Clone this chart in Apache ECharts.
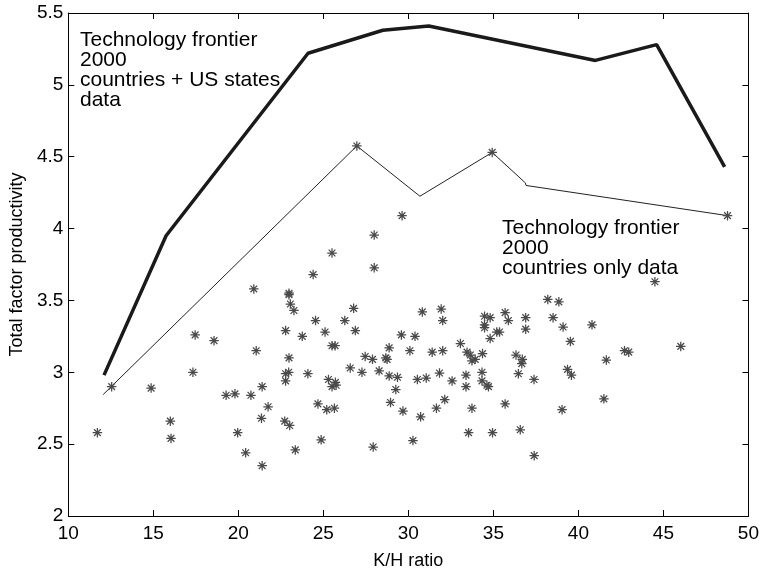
<!DOCTYPE html>
<html>
<head>
<meta charset="utf-8">
<script src="https://cdn.jsdelivr.net/npm/echarts@6/dist/echarts.min.js"></script>
<style>html,body{margin:0;padding:0;background:#fff}#c{width:762px;height:575px}</style>
</head>
<body>
<div id="c"></div>
<script>
// Frontier with countries + US states data (thick line)
const frontierAll = [[12.1,2.98],[15.75,3.95],[24.1,5.22],[28.5,5.38],[31.2,5.41],[41.0,5.17],[44.6,5.28],[48.6,4.43]];
// Frontier with countries only data (thin line)
const frontierCountries = [[12.05,2.845],[26.97,4.575],[30.68,4.225],[34.93,4.53],[36.88,4.318],[36.92,4.30],[48.77,4.09]];
// Countries: K/H ratio vs TFP
const points = [
[11.71,2.58],[12.55,2.90],[14.87,2.89],[16.0,2.66],[16.04,2.54],[17.46,3.26],[17.33,3.0],[18.57,3.22],
[19.28,2.84],[19.8,2.85],[19.96,2.58],[20.43,2.44],[20.74,2.84],[20.91,3.58],[21.05,3.15],[21.36,2.68],
[21.4,2.9],[21.4,2.35],[21.75,2.76],[22.73,2.66],[22.78,3.29],[22.78,2.99],[22.78,2.94],[22.96,3.0],
[22.98,3.55],[22.98,3.54],[22.98,3.10],[23.02,2.63],[23.06,3.475],[23.27,3.43],[23.35,2.46],[23.76,3.25],
[24.09,2.99],[24.4,3.68],[24.54,3.36],[24.68,2.78],[24.87,2.53],[25.1,3.28],[25.2,2.74],[25.3,2.95],
[25.51,3.83],[25.51,3.185],[25.69,3.185],[25.51,2.90],[25.65,2.75],[25.71,2.93],[25.75,2.91],[26.26,3.36],
[26.58,3.03],[26.78,3.445],[26.88,3.29],[26.97,4.575],[27.27,3.0],[27.46,3.11],[27.89,3.09],[27.93,2.48],
[27.99,3.955],[27.99,3.727],[28.28,3.01],[28.67,3.10],[28.75,3.09],[28.87,3.17],[28.87,2.975],[28.95,2.79],
[29.26,2.88],[29.36,2.965],[29.59,3.26],[29.63,4.09],[29.68,2.73],[30.09,3.15],[30.27,2.525],[30.39,3.25],
[30.53,2.95],[30.72,2.69],[30.82,3.42],[31.05,2.96],[31.4,3.14],[31.65,2.75],[31.83,2.995],[31.93,3.44],
[32.02,3.36],[32.02,3.15],[32.14,2.81],[32.57,2.94],[33.06,3.2],[33.39,2.98],[33.39,2.90],[33.45,3.14],
[33.54,2.58],[33.64,3.12],[33.74,3.08],[33.74,2.75],[33.93,3.09],[34.33,3.0],[34.33,2.94],[34.36,3.13],
[34.48,3.39],[34.48,3.33],[34.48,3.31],[34.62,2.91],[34.71,2.90],[34.81,3.38],[34.81,3.235],[34.93,4.53],
[34.95,2.58],[35.2,3.28],[35.36,3.28],[35.69,3.415],[35.69,2.78],[35.88,3.36],[36.33,3.12],[36.47,2.99],
[36.58,2.60],[36.67,3.06],[36.7,3.09],[36.9,3.38],[36.9,3.30],[37.39,2.95],[37.4,2.42],[38.2,3.507],
[38.51,3.38],[38.85,3.49],[39.04,2.74],[39.1,3.315],[39.36,3.02],[39.53,3.215],[39.59,2.98],[40.8,3.33],
[41.5,2.815],[41.64,3.085],[42.71,3.15],[42.96,3.14],[44.5,3.63],[46.02,3.18],[48.77,4.09]
];
const xTicks = {min:10, max:50, interval:5};
const yTicks = {min:2, max:5.5, interval:0.5};
const label1 = ['Technology frontier','2000','countries + US states','data'];
const label2 = ['Technology frontier','2000','countries only data'];

const FONT = '"Liberation Sans", Arial, Helvetica, sans-serif';
const star = 'path://M0,5L10,5M5,0L5,10M1.46,1.46L8.54,8.54M1.46,8.54L8.54,1.46';
const chart = echarts.init(document.getElementById('c'), null, {renderer:'canvas'});
const axisCommon = {
  axisLine:{show:true, lineStyle:{color:'#000', width:1}},
  axisTick:{show:true, inside:true, length:6, lineStyle:{color:'#000', width:1}},
  splitLine:{show:false}
};
const option = {
  backgroundColor:'#fff',
  animation:false,
  grid:{left:66, right:12, top:13, bottom:51, containLabel:false},
  xAxis:[
    Object.assign({type:'value', min:xTicks.min, max:xTicks.max, interval:xTicks.interval, position:'bottom',
      name:'K/H ratio', nameLocation:'middle', nameGap:36,
      nameTextStyle:{fontFamily:FONT, fontSize:18, color:'#000'},
      axisLabel:{fontFamily:FONT, fontSize:19, color:'#000', margin:8}}, axisCommon),
    Object.assign({type:'value', min:xTicks.min, max:xTicks.max, interval:xTicks.interval, position:'top',
      axisLabel:{show:false}}, axisCommon)
  ],
  yAxis:[
    Object.assign({type:'value', min:yTicks.min, max:yTicks.max, interval:yTicks.interval, position:'left',
      name:'Total factor productivity', nameLocation:'middle', nameGap:40, nameRotate:90,
      nameTextStyle:{fontFamily:FONT, fontSize:18, color:'#000'},
      axisLabel:{fontFamily:FONT, fontSize:19, color:'#000', margin:5}}, axisCommon),
    Object.assign({type:'value', min:yTicks.min, max:yTicks.max, interval:yTicks.interval, position:'right',
      axisLabel:{show:false}}, axisCommon)
  ],
  series:[
    {type:'line', data:frontierAll, showSymbol:false, symbol:'none', lineStyle:{color:'#1a1a1a', width:3.5}, z:3},
    {type:'line', data:frontierCountries, showSymbol:false, symbol:'none', lineStyle:{color:'#222', width:1}, z:3},
    {type:'scatter', data:points, symbol:star, symbolSize:9.5,
      itemStyle:{color:'rgba(0,0,0,0)', borderColor:'#4a4a4a', borderWidth:1.25, opacity:1}, z:4}
  ],
  graphic:[
    {type:'text', left:80, top:30, style:{text:label1.join('\n'), font:'21px '+FONT, fill:'#000', lineHeight:20}},
    {type:'text', left:502, top:218, style:{text:label2.join('\n'), font:'21px '+FONT, fill:'#000', lineHeight:20}}
  ]
};
chart.setOption(option);
</script>
</body>
</html>
